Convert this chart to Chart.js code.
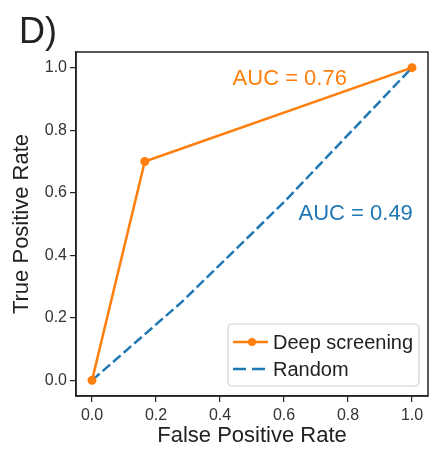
<!DOCTYPE html>
<html>
<head>
<meta charset="utf-8">
<script src="https://cdn.jsdelivr.net/npm/chart.js@4.4.0/dist/chart.umd.min.js"></script>
<style>
  html, body { margin: 0; padding: 0; background: #fff; }
  #wrap { width: 438px; height: 449px; position: relative; }
</style>
</head>
<body>
<div id="wrap"><canvas id="roc"></canvas></div>
<script>
// ROC points
const seriesNames = ["Deep screening", "Random"];
const deepFpr = [0, 0.165, 1];
const deepTpr = [0, 0.70, 1];
const randFpr = [0, 0.28, 0.6, 1];
const randTpr = [0, 0.25, 0.57, 1];
const aucLabels = ["AUC = 0.76", "AUC = 0.49"];
const tickValues = [0, 0.2, 0.4, 0.6, 0.8, 1.0];

const ORANGE = "#ff7f0e";
const BLUE = "#1f77b4";
const FONT = "'Liberation Sans', Arial, Helvetica, sans-serif";

function toPoints(xs, ys) {
  return xs.map((x, i) => ({ x: x, y: ys[i] }));
}

const extras = {
  id: "extras",
  afterDatasetsDraw(chart) {
    const { ctx, chartArea: a, scales } = chart;
    ctx.save();
    // frame
    ctx.strokeStyle = "#222";
    ctx.lineWidth = 1.5;
    ctx.strokeRect(a.left, a.top, a.right - a.left, a.bottom - a.top);

    // AUC notes
    ctx.font = "22px " + FONT;
    ctx.textAlign = "center";
    ctx.textBaseline = "middle";
    ctx.fillStyle = ORANGE;
    ctx.fillText(aucLabels[0], scales.x.getPixelForValue(0.618), scales.y.getPixelForValue(0.965));
    ctx.fillStyle = BLUE;
    ctx.fillText(aucLabels[1], scales.x.getPixelForValue(0.824), scales.y.getPixelForValue(0.532));

    // legend box
    const bx = a.right - 200, by = a.bottom - 72, bw = 191, bh = 62;
    ctx.beginPath();
    ctx.roundRect(bx, by, bw, bh, 4);
    ctx.fillStyle = "rgba(255,255,255,0.85)";
    ctx.fill();
    ctx.strokeStyle = "#d0d0d0";
    ctx.lineWidth = 1.2;
    ctx.stroke();

    const sx = bx + 5, ex = bx + 40;
    // deep screening sample
    let yy = by + 18;
    ctx.strokeStyle = ORANGE;
    ctx.lineWidth = 2.5;
    ctx.setLineDash([]);
    ctx.beginPath(); ctx.moveTo(sx, yy); ctx.lineTo(ex, yy); ctx.stroke();
    ctx.fillStyle = ORANGE;
    ctx.beginPath(); ctx.arc(bx + 24, yy, 4, 0, Math.PI * 2); ctx.fill();
    // random sample
    let yy2 = by + 45;
    ctx.strokeStyle = BLUE;
    ctx.setLineDash([13, 6]);
    ctx.beginPath(); ctx.moveTo(sx, yy2); ctx.lineTo(sx + 32, yy2); ctx.stroke();
    ctx.setLineDash([]);

    ctx.font = "20px " + FONT;
    ctx.textAlign = "left";
    ctx.fillStyle = "#222";
    ctx.fillText(seriesNames[0], ex + 5, yy + 1);
    ctx.fillText(seriesNames[1], ex + 5, yy2 + 1);

    // panel letter
    ctx.font = "36px " + FONT;
    ctx.textBaseline = "alphabetic";
    ctx.fillText("D)", 19, 43);
    ctx.restore();
  }
};

new Chart(document.getElementById("roc"), {
  type: "line",
  data: {
    datasets: [
      {
        label: seriesNames[0],
        data: toPoints(deepFpr, deepTpr),
        borderColor: ORANGE,
        backgroundColor: ORANGE,
        borderWidth: 2.5,
        pointRadius: 4.5,
        pointBorderWidth: 0,
        tension: 0,
      },
      {
        label: seriesNames[1],
        data: toPoints(randFpr, randTpr),
        borderColor: BLUE,
        borderWidth: 2.5,
        borderDash: [10, 4],
        pointRadius: 0,
        tension: 0,
      },
    ],
  },
  options: {
    responsive: true,
    maintainAspectRatio: false,
    animation: false,
    layout: { padding: { left: 0, right: 10, top: 52, bottom: 0 } },
    scales: {
      x: {
        type: "linear",
        min: -0.05,
        max: 1.05,
        afterBuildTicks: (s) => { s.ticks = tickValues.map(v => ({ value: v })); },
        afterFit: (s) => { s.height = 53; },
        grid: { drawOnChartArea: false, drawTicks: true, tickLength: 6, color: "#222", lineWidth: 1.2 },
        border: { display: true, color: "#222", width: 1.5 },
        ticks: {
          padding: 4,
          color: "#333",
          font: { size: 16, family: FONT },
          maxRotation: 0,
          callback: (v) => Number(v).toFixed(1),
        },
        title: {
          display: true,
          text: "False Positive Rate",
          color: "#222",
          font: { size: 22, family: FONT },
          padding: 0,
        },
      },
      y: {
        type: "linear",
        min: -0.05,
        max: 1.05,
        afterBuildTicks: (s) => { s.ticks = tickValues.map(v => ({ value: v })); },
        afterFit: (s) => { s.width = 76; },
        grid: { drawOnChartArea: false, drawTicks: true, tickLength: 6, color: "#222", lineWidth: 1.2 },
        border: { display: true, color: "#222", width: 1.5 },
        ticks: {
          padding: 3,
          color: "#333",
          font: { size: 16, family: FONT },
          callback: (v) => Number(v).toFixed(1),
        },
        title: {
          display: true,
          text: "True Positive Rate",
          color: "#222",
          font: { size: 22, family: FONT },
          padding: { top: 9, bottom: 0 },
        },
      },
    },
    plugins: {
      legend: { display: false },
      tooltip: { enabled: false },
    },
  },
  plugins: [extras],
});
</script>
</body>
</html>
